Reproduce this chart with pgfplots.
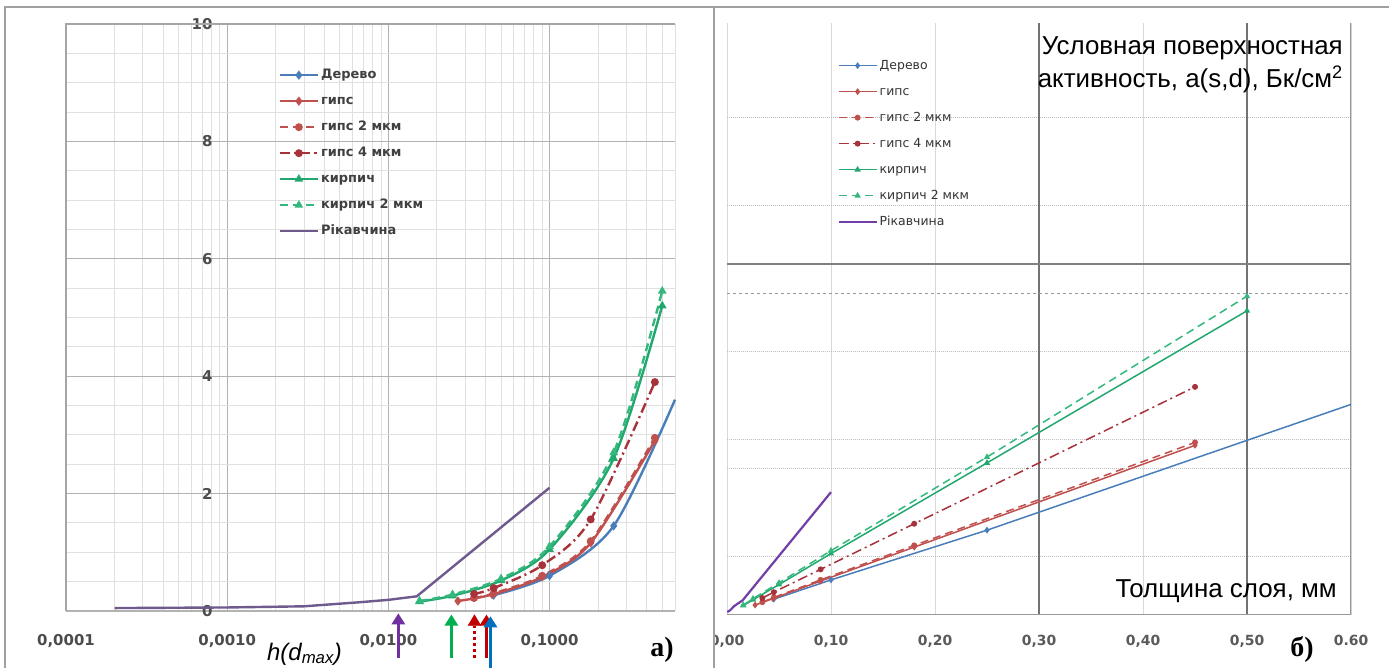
\documentclass[border=0pt]{standalone}
\usepackage{fontspec}
\setmainfont{Liberation Sans}
\newfontfamily\dvs{DejaVu Sans}
\newfontfamily\tnr{Liberation Serif}
\usepackage{pgfplots}
\usepackage{pgfplotstable}
\pgfplotsset{compat=1.18}
\usetikzlibrary{arrows.meta}

\definecolor{cblue}{HTML}{4A7EBB}
\definecolor{cred}{HTML}{C0504D}
\definecolor{cdred}{HTML}{A8323A}
\definecolor{cgreen}{HTML}{22A86E}
\definecolor{cgreen2}{HTML}{34B87E}
\definecolor{cpurp}{HTML}{6F5A8E}
\definecolor{cpurp2}{HTML}{7040A8}
\definecolor{apurp}{HTML}{7030A0}
\definecolor{agreen}{HTML}{00B050}
\definecolor{ared}{HTML}{C00000}
\definecolor{ablue}{HTML}{0070C0}
\definecolor{frame}{HTML}{A0A0A0}

% Дерево
\pgfplotstableread{
x y
0.045 0.27
0.1 0.60
0.25 1.45
0.6 3.60
}\derevo
% гипс
\pgfplotstableread{
x y
0.027 0.17
0.044 0.28
0.09 0.58
0.18 1.16
0.45 2.90
}\gips
% гипс 2 мкм
\pgfplotstableread{
x y
0.034 0.22
0.045 0.30
0.09 0.60
0.18 1.19
0.45 2.95
}\gipsb
% гипс 4 мкм
\pgfplotstableread{
x y
0.034 0.29
0.045 0.39
0.09 0.78
0.18 1.56
0.45 3.90
}\gipsc
% кирпич
\pgfplotstableread{
x y
0.0156 0.16
0.025 0.26
0.05 0.52
0.1 1.05
0.25 2.60
0.5 5.20
}\kirp
% кирпич 2 мкм
\pgfplotstableread{
x y
0.0156 0.17
0.025 0.28
0.05 0.55
0.1 1.10
0.25 2.70
0.5 5.45
}\kirpb
% Рікавчина
\pgfplotstableread{
x y
0.0002 0.05
0.001 0.06
0.003 0.08
0.0067 0.15
0.01 0.19
0.015 0.25
0.1 2.10
}\rik

\pgfplotsset{
  legend image code/.code={\draw[mark repeat=2,mark phase=2,#1] plot coordinates {(0bp,0bp) (19bp,0bp) (38bp,0bp)};},
  sderevo/.style={color=cblue, mark=diamond*, mark options={solid}, mark indices={1,2,3},
    legend image post style={mark indices={2}}},
  sgips/.style={color=cred, mark=diamond*, mark options={solid}},
  sgipsb/.style={color=cred, dash pattern=on 8bp off 5bp, mark=*, mark options={solid}},
  sgipsc/.style={color=cdred, dash pattern=on 10bp off 4bp on 2bp off 4bp, mark=*, mark options={solid}},
  skirp/.style={color=cgreen, mark=triangle*, mark options={solid}},
  skirpb/.style={color=cgreen2, dash pattern=on 8bp off 5bp, mark=triangle*, mark options={solid}},
}

\begin{document}
\begin{tikzpicture}
\path[use as bounding box] (0bp,0bp) rectangle (1389bp,668bp);
\fill[white] (0bp,0bp) rectangle (1389bp,668bp);

% ---------------- right panel (б) ----------------
\begin{axis}[
  at={(727bp,53bp)}, anchor=south west, scale only axis,
  width=624bp, height=592bp,
  xmin=0, xmax=0.6, ymin=0, ymax=10.12,
  xtick={0,0.1,0.2,0.3,0.4,0.5,0.6},
  xticklabels={{0,00},{0,10},{0,20},{0,30},{0,40},{0,50},{0.60}},
  ytick=\empty,
  extra y ticks={1,2.5,3,4.5,7,8.5},
  extra y tick labels={},
  extra y tick style={grid=major, major grid style={densely dotted, line width=1bp, draw=black!25}},
  xmajorgrids, major grid style={line width=1bp, draw=black!15},
  major tick length=0,
  axis line style={draw=none},
  ticklabel style={font=\dvs\bfseries\fontsize{14}{16}\selectfont, text=black!65},
  xticklabel style={yshift=-17bp},
  legend style={at={(rel axis cs:0.172,0.946)}, anchor=north west, draw=none, fill=none,
    font=\dvs\fontsize{12.5}{14}\selectfont, text=black!80, row sep=9bp,
    nodes={inner sep=2bp, text height=10bp, text depth=3bp}},
  legend cell align=left,
  every axis plot/.append style={line width=1.5bp, mark size=2.2bp},
]
\draw[black!55, line width=1.2bp] (axis cs:0.3,0) -- (axis cs:0.3,10.12);
\draw[black!55, line width=1.2bp] (axis cs:0.5,0) -- (axis cs:0.5,10.12);
\draw[black!50, line width=1.2bp] (axis cs:0,6) -- (axis cs:0.6,6);
\draw[black!40, line width=1bp, dash pattern=on 3bp off 3bp] (axis cs:0,5.5) -- (axis cs:0.6,5.5);
\draw[black!40, line width=1.2bp] (rel axis cs:0,0) -- (rel axis cs:1,0) -- (rel axis cs:1,1);
\addplot[sderevo] table {\derevo}; \addlegendentry{Дерево}
\addplot[sgips] table {\gips}; \addlegendentry{гипс}
\addplot[sgipsb] table {\gipsb}; \addlegendentry{гипс 2 мкм}
\addplot[sgipsc] table {\gipsc}; \addlegendentry{гипс 4 мкм}
\addplot[skirp] table {\kirp}; \addlegendentry{кирпич}
\addplot[skirpb] table {\kirpb}; \addlegendentry{кирпич 2 мкм}
\addplot[color=cpurp2, line width=2.2bp, no marks] table {\rik}; \addlegendentry{Рікавчина}
\end{axis}

\fill[white] (688bp,0bp) rectangle (714bp,45bp);

% ---------------- left panel (а) ----------------
\begin{axis}[
  at={(66bp,57bp)}, anchor=south west, scale only axis,
  width=609bp, height=587bp,
  xmode=log, xmin=0.0001, xmax=0.6, ymin=0, ymax=10,
  clip=false,
  xtick={0.0001,0.001,0.01,0.1},
  xticklabels={{0,0001},{0,0010},{0,0100},{0,1000}},
  minor xtick={0.0002,0.0003,0.0004,0.0005,0.0006,0.0007,0.0008,0.0009,
    0.002,0.003,0.004,0.005,0.006,0.007,0.008,0.009,
    0.02,0.03,0.04,0.05,0.06,0.07,0.08,0.09,
    0.2,0.3,0.4,0.5,0.6},
  ytick={0,2,4,6,8,10},
  yticklabels={0,2,4,6,8,10},
  minor ytick={0.5,1,1.5,2.5,3,3.5,4.5,5,5.5,6.5,7,7.5,8.5,9,9.5},
  xmajorgrids, xminorgrids, ymajorgrids, yminorgrids,
  major grid style={line width=1.1bp, draw=black!30},
  minor grid style={line width=0.9bp, draw=black!12},
  major tick length=0, minor tick length=0,
  axis line style={draw=none},
  ticklabel style={font=\dvs\bfseries\fontsize{15}{17}\selectfont, text=black!70},
  xticklabel style={yshift=-20bp},
  yticklabel style={xshift=150bp},
  legend style={at={(rel axis cs:0.344,0.931)}, anchor=north west, draw=none, fill=none,
    font=\dvs\bfseries\fontsize{13}{15}\selectfont, text=black!75, row sep=9bp,
    nodes={inner sep=2bp, text height=10bp, text depth=3bp}},
  legend cell align=left,
  every axis plot/.append style={line width=2.4bp, mark size=2.7bp},
]
\draw[black!35, line width=1.2bp] (rel axis cs:0,0) -- (rel axis cs:0,1) -- (rel axis cs:1,1);
\addplot[sderevo, smooth] table {\derevo}; \addlegendentry{Дерево}
\addplot[sgips, smooth] table {\gips}; \addlegendentry{гипс}
\addplot[sgipsb, smooth] table {\gipsb}; \addlegendentry{гипс 2 мкм}
\addplot[sgipsc, smooth] table {\gipsc}; \addlegendentry{гипс 4 мкм}
\addplot[skirp, smooth] table {\kirp}; \addlegendentry{кирпич}
\addplot[skirpb, smooth] table {\kirpb}; \addlegendentry{кирпич 2 мкм}
\addplot[color=cpurp, no marks] table {\rik}; \addlegendentry{Рікавчина}
% arrows marking h(d_max)
\draw[apurp, line width=3bp, -{Triangle[width=13bp,length=11bp]}] (axis cs:0.01153,-0.80) -- (axis cs:0.01153,-0.04);
\draw[agreen, line width=3bp, -{Triangle[width=13bp,length=11bp]}] (axis cs:0.0246,-0.80) -- (axis cs:0.0246,-0.06);
\draw[ared, line width=3bp, dash pattern=on 3bp off 3bp] (axis cs:0.0342,-0.80) -- (axis cs:0.0342,-0.25);
\draw[ared, line width=0.1bp, fill=ared] (axis cs:0.0342,-0.06) ++(-6.5bp,-11bp) -- ++(13bp,0bp) -- ++(-6.5bp,11bp) -- cycle;
\draw[ared, line width=3bp, -{Triangle[width=13bp,length=11bp]}] (axis cs:0.0406,-0.80) -- (axis cs:0.0406,-0.06);
\draw[ablue, line width=3bp, -{Triangle[width=13bp,length=11bp]}] (axis cs:0.043,-1.0) -- (axis cs:0.043,-0.09);
\end{axis}

% texts
\node[anchor=base west, inner sep=0pt, font=\itshape\fontsize{24}{28}\selectfont] at (267bp,8bp) {h(d\textsubscript{max})};
\node[anchor=base, inner sep=0pt, font=\tnr\bfseries\fontsize{28}{32}\selectfont] at (662bp,12bp) {а)};
\node[anchor=base, inner sep=0pt, font=\tnr\bfseries\fontsize{28}{32}\selectfont] at (1302bp,12bp) {б)};
\node[anchor=base east, inner sep=0pt, font=\fontsize{26}{30}\selectfont] at (1343bp,613bp) {Условная поверхностная};
\node[anchor=base east, inner sep=0pt, font=\fontsize{26}{30}\selectfont] at (1343bp,580bp) {активность, a(s,d), Бк/см\textsuperscript{2}};
\node[anchor=base east, inner sep=0pt, font=\fontsize{26}{30}\selectfont] at (1337bp,70bp) {Толщина слоя, мм};

% frames
\draw[frame, line width=2bp] (5bp,0bp) -- (5bp,661bp) -- (1389bp,661bp);
\draw[frame, line width=2.5bp] (714bp,0bp) -- (714bp,661bp);
\end{tikzpicture}
\end{document}
